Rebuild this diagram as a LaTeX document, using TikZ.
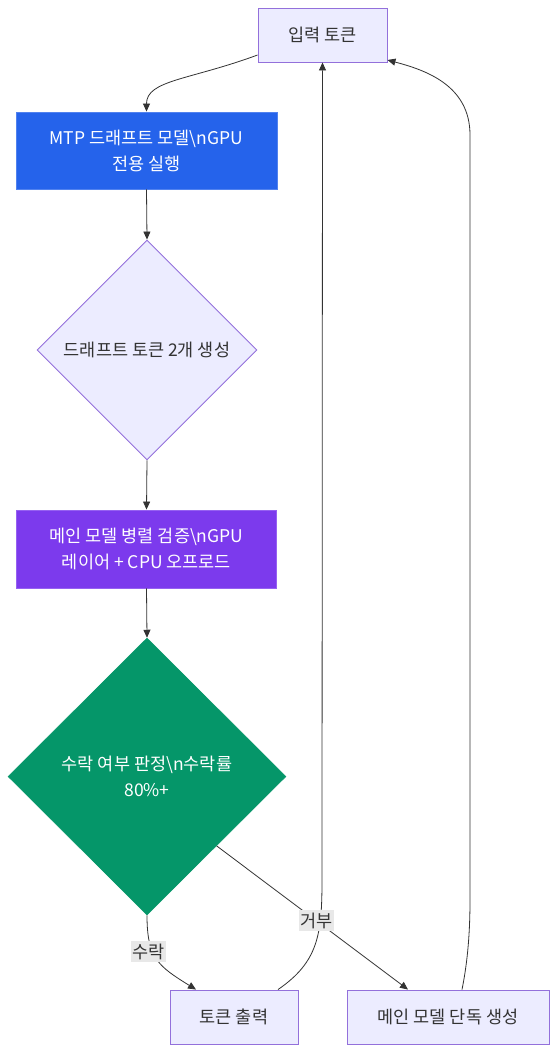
\documentclass[tikz,border=0pt]{standalone}
\usepackage{fontspec}
\setmainfont{Noto Sans CJK KR}
\usetikzlibrary{shapes.geometric,arrows.meta}
\definecolor{lightfill}{HTML}{ECECFF}
\definecolor{lightborder}{HTML}{9370DB}
\definecolor{bluefill}{HTML}{2563EB}
\definecolor{purplefill}{HTML}{7C3AED}
\definecolor{greenfill}{HTML}{059669}
\definecolor{edgecol}{HTML}{333333}
\definecolor{textcol}{HTML}{333333}
\definecolor{labelbg}{HTML}{E8E8E8}
\tikzset{
  lbox/.style={rectangle, fill=lightfill, draw=lightborder, line width=0.9pt, text=textcol, align=center, inner sep=0pt},
  bluebox/.style={rectangle, fill=bluefill, draw=bluefill!80!white, line width=0.9pt, text=white, align=center, inner sep=0pt},
  purplebox/.style={rectangle, fill=purplefill, draw=purplefill!80!white, line width=0.9pt, text=white, align=center, inner sep=0pt},
  ldiam/.style={diamond, fill=lightfill, draw=lightborder, line width=0.9pt, text=textcol, align=center, inner sep=0pt},
  gdiam/.style={diamond, fill=greenfill, draw=greenfill, line width=0.5pt, text=white, align=center, inner sep=0pt},
  arr/.style={draw=edgecol, line width=0.8pt, -{Triangle[length=8pt,width=7pt]}},
  elabel/.style={fill=labelbg, text=textcol, inner xsep=1.5pt, inner ysep=2.5pt, font=\fontsize{17.5}{20}\selectfont}
}
\begin{document}
\begin{tikzpicture}[x=1pt,y=-1pt, font=\fontsize{17.5}{26}\selectfont]
\useasboundingbox[fill=white] (0,0) rectangle (557,1052);

\node[lbox, minimum width=129pt, minimum height=54pt] (in) at (322.5,35) {입력 토큰};
\node[bluebox, minimum width=261pt, minimum height=77pt] (mtp) at (146.5,150.5) {MTP 드래프트 모델\textbackslash nGPU\\전용 실행};
\node[ldiam, minimum width=220pt, minimum height=220pt] (d1) at (147,350) {드래프트 토큰 2개 생성};
\node[purplebox, minimum width=260pt, minimum height=78pt] (ver) at (146.5,549) {메인 모델 병렬 검증\textbackslash nGPU\\레이어 + CPU 오프로드};
\node[gdiam, minimum width=278pt, minimum height=277pt] (d2) at (147,776.5) {수락 여부 판정\textbackslash n수락률\\80\%+};
\node[lbox, minimum width=128pt, minimum height=54pt] (out) at (234,1017) {토큰 출력};
\node[lbox, minimum width=202pt, minimum height=54pt] (alone) at (448,1017) {메인 모델 단독 생성};

\draw[arr] ([yshift=-20pt]in.west) .. controls (190,80) and (146.5,80) .. (mtp.north);
\draw[arr] (mtp.south) -- (d1.north);
\draw[arr] (d1.south) -- (ver.north);
\draw[arr] (ver.south) -- (d2.north);
\draw[arr] ([xshift=44pt]out.north) .. controls (318,962) and (322,935) .. (322,880) -- (in.south);
\draw[arr] ([xshift=14pt]alone.north) .. controls (468,960) and (470,930) .. (470,900) -- (470,135) .. controls (470,85) and (425,70) .. ([yshift=-25pt]in.east);
\draw[arr] (d2.south) .. controls (147,958) and (158,966) .. node[elabel, pos=0.38, xshift=-4pt] {수락} ([xshift=-38pt]out.north);
\draw[arr] (d2.south east) -- node[elabel, pos=0.52] {거부} ([xshift=-40pt]alone.north);
\end{tikzpicture}
\end{document}
